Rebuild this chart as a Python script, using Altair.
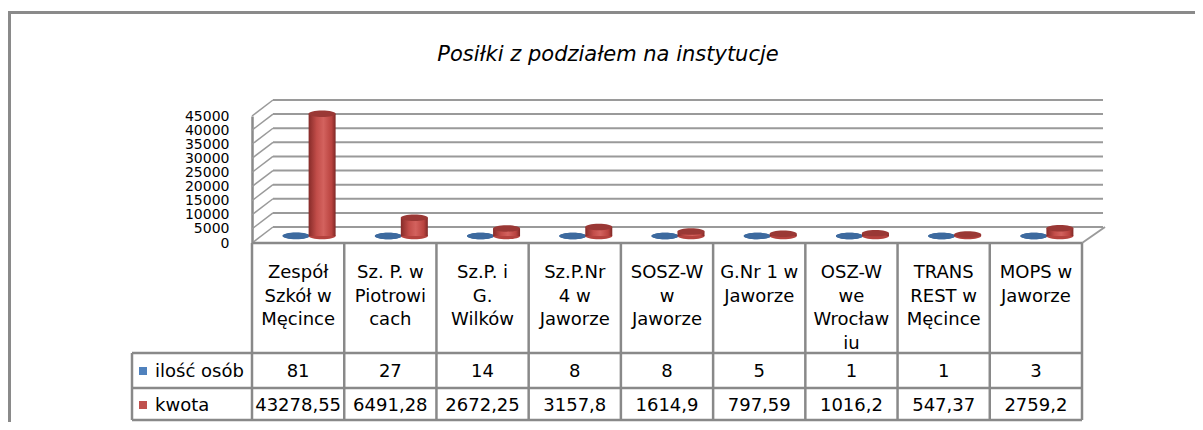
import altair as alt
import pandas as pd

# ---------------- data ----------------
categories = [
    "Zespół Szkół w Męcince",
    "Sz. P. w Piotrowicach",
    "Sz.P. i G. Wilków",
    "Sz.P.Nr 4 w Jaworze",
    "SOSZ-W w Jaworze",
    "G.Nr 1 w Jaworze",
    "OSZ-W we Wrocławiu",
    "TRANS REST w Męcince",
    "MOPS w Jaworze",
]
category_labels = [
    "Zespół\nSzkół w\nMęcince",
    "Sz. P.  w\nPiotrowi\ncach",
    "Sz.P. i\nG.\nWilków",
    "Sz.P.Nr\n4 w\nJaworze",
    "SOSZ-W\nw\nJaworze",
    "G.Nr 1 w\nJaworze",
    "OSZ-W\nwe\nWrocław\niu",
    "TRANS\nREST w\nMęcince",
    "MOPS w\nJaworze",
]
ilosc_osob = [81, 27, 14, 8, 8, 5, 1, 1, 3]
kwota = [43278.55, 6491.28, 2672.25, 3157.8, 1614.9, 797.59, 1016.2, 547.37, 2759.2]
series_names = ["ilość osób", "kwota"]
y_ticks = [0, 5000, 10000, 15000, 20000, 25000, 30000, 35000, 40000, 45000]
title_text = "Posiłki z podziałem na instytucje"

df = pd.DataFrame({
    "cat": categories,
    "label": category_labels,
    "osoby": ilosc_osob,
    "kwota": kwota,
    "zero": [0] * len(categories),
    "osoby_str": [str(v) for v in ilosc_osob],
    "kwota_str": [str(v).replace(".", ",") for v in kwota],
})
ticks_df = pd.DataFrame({"tick": y_ticks})
one = pd.DataFrame({"k": [0]})

# ---------------- styling ----------------
W, H = 830, 127
FONT = "DejaVu Sans"
LINE = "#898989"
GRID = "#9a9a9a"
DX, DY = 21, -16  # 3D depth offset of back wall

X = alt.X("cat:N", sort=categories,
          scale=alt.Scale(domain=categories, paddingInner=0, paddingOuter=0),
          axis=None)
YS = alt.Scale(domain=[0, 45000], nice=False, zero=True)
YAX = alt.Axis(values=y_ticks, title=None, ticks=False, grid=False,
               domainColor="#8a8a8a", domainWidth=2.5,
               labelFont=FONT, labelFontSize=14, labelColor="black",
               labelPadding=23, labelOverlap=False, labelFlush=False, format="d")


def yenc(field):
    return alt.Y(f"{field}:Q", scale=YS, axis=YAX, title=None)


red_grad = alt.LinearGradient(
    gradient="linear", x1=0, x2=1, y1=0, y2=0,
    stops=[alt.GradientStop(color="#862b29", offset=0),
           alt.GradientStop(color="#c24d49", offset=0.3),
           alt.GradientStop(color="#d3625e", offset=0.55),
           alt.GradientStop(color="#b9433f", offset=0.85),
           alt.GradientStop(color="#7e2826", offset=1)])
blue_grad = alt.LinearGradient(
    gradient="linear", x1=0, x2=1, y1=0, y2=0,
    stops=[alt.GradientStop(color="#2d5583", offset=0),
           alt.GradientStop(color="#4f81bd", offset=0.5),
           alt.GradientStop(color="#2d5583", offset=1)])
ELLIPSE = "M-1,0 A1,0.24 0 1,0 1,0 A1,0.24 0 1,0 -1,0 Z"


def vrule(x, y, y2, color=LINE, w=2.5):
    return alt.Chart(one).mark_rule(color=color, strokeWidth=w).encode(
        x=alt.value(x), y=alt.value(y), y2=alt.value(y2))


def hrule(x, x2, y, color=LINE, w=2.5):
    return alt.Chart(one).mark_rule(color=color, strokeWidth=w).encode(
        x=alt.value(x), x2=alt.value(x2), y=alt.value(y))


layers = []

# outer frame (only left and top edges are visible)
layers.append(alt.Chart(one).mark_rect(fillOpacity=0, stroke="#8a8a8a", strokeWidth=3).encode(
    x=alt.value(-242.5), x2=alt.value(1500), y=alt.value(-103.5), y2=alt.value(1000)))

# title
layers.append(alt.Chart(one).mark_text(
    text=title_text, font=FONT, fontSize=21, fontStyle="italic",
    align="center", baseline="alphabetic", color="black").encode(
    x=alt.value(356), y=alt.value(-55)))

# back-wall gridlines (with y axis)
layers.append(alt.Chart(ticks_df).mark_rule(color=GRID, strokeWidth=2, yOffset=DY).encode(
    y=yenc("tick"), x=alt.value(DX), x2=alt.value(W + DX)))
# left-wall diagonals
layers.append(alt.Chart(ticks_df).mark_rule(color=GRID, strokeWidth=1.5, y2Offset=DY).encode(
    y=yenc("tick"), y2="tick:Q", x=alt.value(0), x2=alt.value(DX)))
# floor right diagonal
layers.append(alt.Chart(one).mark_rule(color=GRID, strokeWidth=2).encode(
    x=alt.value(W), x2=alt.value(W + DX + 2), y=alt.value(H), y2=alt.value(H + DY)))


def cylinder(field, grad, top_color, bottom_color, xoff):
    base = alt.Chart(df)
    bottom = base.mark_point(shape=ELLIPSE, size=729, filled=True, fill=bottom_color,
                             opacity=1, strokeWidth=0, xOffset=xoff, yOffset=-7).encode(
        x=X, y=yenc("zero"))
    body = base.mark_bar(width=27, xOffset=xoff, yOffset=-7, y2Offset=-7, color=grad).encode(
        x=X, y=yenc(field), y2=alt.datum(0))
    top = base.mark_point(shape=ELLIPSE, size=729, filled=True, fill=top_color,
                          opacity=1, strokeWidth=0, xOffset=xoff, yOffset=-7).encode(
        x=X, y=yenc(field))
    return [bottom, body, top]


layers += cylinder("osoby", blue_grad, "#3d6a9f", "#3d6a9f", -2)
layers += cylinder("kwota", red_grad, "#9a3835", "#b4423e", 24)

# ---------------- data table ----------------
T_HEAD = H            # 243 px on page
T_R1 = 237            # 353
T_R2 = 272            # 388
T_BOT = 304           # 420
LEG_X = -120          # 132

layers.append(alt.Chart(df).mark_rule(color=LINE, strokeWidth=2.5).encode(
    x=alt.X("cat:N", sort=categories, bandPosition=0,
            scale=alt.Scale(domain=categories, paddingInner=0, paddingOuter=0), axis=None),
    y=alt.value(T_HEAD), y2=alt.value(T_BOT)))
layers.append(vrule(W, T_HEAD, T_BOT))
layers.append(vrule(LEG_X, T_R1, T_BOT))
layers.append(hrule(0, W, T_HEAD))
layers.append(hrule(LEG_X, W, T_R1))
layers.append(hrule(LEG_X, W, T_R2))
layers.append(hrule(LEG_X, W, T_BOT))

# category labels
layers.append(alt.Chart(df).mark_text(
    font=FONT, fontSize=18, lineBreak="\n", lineHeight=23.5,
    baseline="top", align="center", color="black").encode(
    x=X, y=alt.value(148), text="label:N"))
# row values
layers.append(alt.Chart(df).mark_text(
    font=FONT, fontSize=18, baseline="middle", align="center", color="black").encode(
    x=X, y=alt.value(256), text="osoby_str:N"))
layers.append(alt.Chart(df).mark_text(
    font=FONT, fontSize=18, baseline="middle", align="center", color="black").encode(
    x=X, y=alt.value(290), text="kwota_str:N"))

# row headers with legend keys
for name, col, yy in [(series_names[0], "#4f81bd", 255), (series_names[1], "#c0504d", 289)]:
    layers.append(alt.Chart(one).mark_point(shape="square", filled=True, size=64,
                                            color=col, opacity=1).encode(
        x=alt.value(-109), y=alt.value(yy)))
    layers.append(alt.Chart(one).mark_text(
        text=name, font=FONT, fontSize=18, align="left", baseline="middle",
        color="black").encode(x=alt.value(-97), y=alt.value(yy + 1)))

chart = alt.layer(*layers).properties(
    width=W, height=H,
    padding={"left": 244, "top": 108, "right": 113, "bottom": 179},
    autosize=alt.AutoSizeParams(type="none"),
    background="white",
).configure_view(stroke=None)

chart.save("out.html", embed_options={"renderer": "svg", "actions": False})
